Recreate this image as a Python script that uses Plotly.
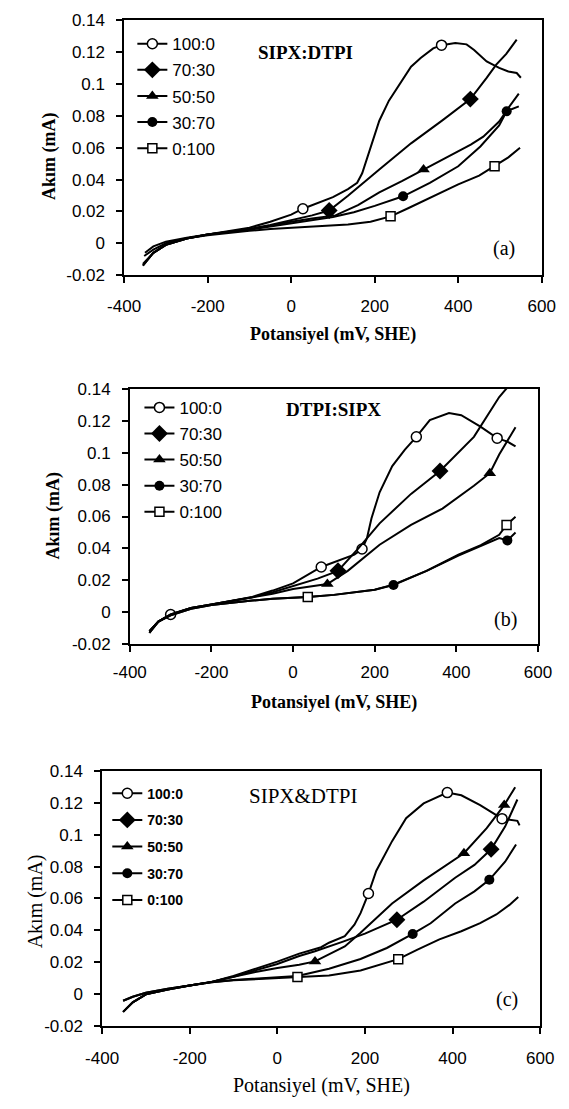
import plotly.graph_objects as go

W, H = 569, 1109

RATIOS = ["100:0", "70:30", "50:50", "30:70", "0:100"]

X_TICKS = [-400, -200, 0, 200, 400, 600]
X_TICK_TEXT = ["-400", "-200", "0", "200", "400", "600"]
Y_TICKS = [-0.02, 0, 0.02, 0.04, 0.06, 0.08, 0.1, 0.12, 0.14]
Y_TICK_TEXT = ["-0.02", "0", "0.02", "0.04", "0.06", "0.08", "0.1", "0.12", "0.14"]

# ---------------- (a) SIPX:DTPI ----------------
A_V_100_0 = [-350, -330, -300, -250, -200, -150, -100, -50, 0, 28, 60, 100, 136, 158, 170, 181,
             196, 211, 234, 264, 287, 310, 340, 360, 393, 420, 438, 468, 498, 520, 540, 550]
A_I_100_0 = [-0.006, -0.002, 0.001, 0.0035, 0.0055, 0.0075, 0.0098, 0.0135, 0.018, 0.0217, 0.025,
             0.029, 0.034, 0.038, 0.044, 0.0525, 0.065, 0.077, 0.0896, 0.102, 0.111, 0.1164, 0.1225,
             0.1245, 0.1258, 0.125, 0.1215, 0.1143, 0.1102, 0.108, 0.107, 0.104]
A_MK_100_0 = [28, 360]

A_V_70_30 = [-355, -330, -300, -250, -200, -150, -100, -50, 0, 50, 91, 136, 211, 287, 362, 429,
             468, 491, 515, 540]
A_I_70_30 = [-0.014, -0.006, -0.001, 0.003, 0.0055, 0.0073, 0.009, 0.0115, 0.0145, 0.0175, 0.0206,
             0.0299, 0.0464, 0.0628, 0.0772, 0.0906, 0.104, 0.1123, 0.119, 0.128]
A_MK_70_30 = [91, 429]

A_V_50_50 = [-355, -330, -300, -250, -200, -150, -100, -50, 0, 50, 106, 160, 211, 265, 317, 360,
             393, 430, 460, 498, 520, 545]
A_I_50_50 = [-0.014, -0.006, -0.001, 0.003, 0.0055, 0.0072, 0.0088, 0.011, 0.0135, 0.0155, 0.0175,
             0.024, 0.032, 0.039, 0.0464, 0.052, 0.0567, 0.062, 0.067, 0.0765, 0.085, 0.094]
A_MK_50_50 = [317]

A_V_30_70 = [-355, -330, -300, -250, -200, -150, -100, -50, 0, 50, 100, 150, 200, 268, 332, 400,
             453, 498, 516, 545]
A_I_30_70 = [-0.013, -0.006, -0.001, 0.003, 0.0055, 0.007, 0.0085, 0.0105, 0.0125, 0.0145, 0.0165,
             0.0195, 0.0235, 0.0295, 0.038, 0.0484, 0.0608, 0.074, 0.083, 0.086]
A_MK_30_70 = [268, 516]

A_V_0_100 = [-352, -330, -300, -250, -200, -150, -100, -50, 0, 60, 136, 190, 238, 280, 325, 400,
             450, 487, 520, 548]
A_I_0_100 = [-0.008, -0.004, 0.0, 0.0032, 0.005, 0.0065, 0.0078, 0.009, 0.0098, 0.0106, 0.0118,
             0.0135, 0.0169, 0.022, 0.0278, 0.037, 0.0425, 0.0484, 0.054, 0.060]
A_MK_0_100 = [238, 487]

# ---------------- (b) DTPI:SIPX ----------------
B_V_100_0 = [-352, -330, -300, -250, -200, -150, -100, -50, 0, 69, 119, 150, 169, 181, 192, 212,
             243, 274, 302, 335, 382, 412, 459, 500, 525, 545]
B_I_100_0 = [-0.012, -0.006, -0.0015, 0.0025, 0.0048, 0.007, 0.0095, 0.0135, 0.018, 0.0283, 0.033,
             0.036, 0.0396, 0.0464, 0.0588, 0.0752, 0.0917, 0.102, 0.110, 0.1205, 0.125, 0.1236,
             0.1164, 0.1092, 0.107, 0.104]
B_MK_100_0 = [-300, 69, 169, 302, 500]

B_V_70_30 = [-352, -330, -300, -250, -200, -150, -100, -50, 0, 60, 110, 160, 212, 289, 360, 443,
             505, 525, 550]
B_I_70_30 = [-0.013, -0.006, -0.0015, 0.0025, 0.0048, 0.007, 0.0093, 0.0125, 0.0165, 0.021, 0.0259,
             0.040, 0.0557, 0.0742, 0.0886, 0.110, 0.135, 0.141, 0.147]
B_MK_70_30 = [110, 360]

B_V_50_50 = [-352, -330, -300, -250, -200, -150, -100, -50, 0, 40, 84, 134, 212, 289, 366, 443,
             482, 505, 530, 545]
B_I_50_50 = [-0.012, -0.006, -0.0015, 0.0025, 0.0048, 0.007, 0.009, 0.0115, 0.0145, 0.016, 0.0176,
             0.0259, 0.0423, 0.0547, 0.065, 0.0793, 0.0872, 0.0989, 0.11, 0.116]
B_MK_50_50 = [84, 482]

B_V_30_70 = [-352, -330, -300, -250, -200, -150, -100, -50, 0, 36, 100, 160, 200, 246, 327, 405,
             460, 505, 525, 545]
B_I_30_70 = [-0.013, -0.006, -0.002, 0.002, 0.0045, 0.006, 0.0072, 0.0083, 0.0088, 0.0094, 0.0108,
             0.0125, 0.014, 0.017, 0.0259, 0.0355, 0.0415, 0.0465, 0.045, 0.050]
B_MK_30_70 = [246, 525]

B_V_0_100 = [-352, -330, -300, -250, -200, -150, -100, -50, 0, 36, 100, 160, 200, 246, 327, 405,
             460, 505, 523, 545]
B_I_0_100 = [-0.012, -0.006, -0.002, 0.002, 0.0045, 0.006, 0.0072, 0.0083, 0.0088, 0.0094, 0.0108,
             0.0125, 0.014, 0.0172, 0.0259, 0.036, 0.042, 0.0485, 0.0547, 0.0598]
B_MK_0_100 = [36, 523]

# ---------------- (c) SIPX&DTPI ----------------
C_V_100_0 = [-352, -330, -300, -250, -200, -150, -100, -50, 0, 50, 100, 118, 154, 176, 190, 208,
             226, 262, 294, 334, 388, 420, 463, 499, 513, 548, 553]
C_I_100_0 = [-0.004, -0.0015, 0.001, 0.0035, 0.0055, 0.0078, 0.0115, 0.016, 0.0205, 0.0255, 0.0295,
             0.0323, 0.0364, 0.0436, 0.0508, 0.0631, 0.0774, 0.0959, 0.1103, 0.1195, 0.1263, 0.1246,
             0.1185, 0.1123, 0.110, 0.1086, 0.1058]
C_MK_100_0 = [208, 388, 513]

C_V_70_30 = [-352, -330, -300, -250, -200, -150, -100, -50, 0, 50, 86, 150, 200, 273, 334, 406,
             450, 488, 520, 548]
C_I_70_30 = [-0.011, -0.005, 0.0, 0.003, 0.0055, 0.0078, 0.011, 0.015, 0.019, 0.024, 0.027, 0.033,
             0.038, 0.0467, 0.058, 0.073, 0.081, 0.0908, 0.105, 0.122]
C_MK_70_30 = [273, 488]

C_V_50_50 = [-352, -330, -300, -250, -200, -150, -100, -50, 0, 50, 86, 154, 190, 262, 334, 380,
             426, 478, 507, 518, 543]
C_I_50_50 = [-0.004, -0.0015, 0.001, 0.0035, 0.0055, 0.0078, 0.011, 0.014, 0.0165, 0.0185, 0.0206,
             0.030, 0.0385, 0.0569, 0.0713, 0.080, 0.0883, 0.104, 0.1144, 0.1185, 0.1297]
C_MK_50_50 = [86, 426, 518]

C_V_30_70 = [-352, -330, -300, -250, -200, -150, -100, -50, 0, 46, 118, 190, 250, 309, 350, 406,
             450, 484, 520, 545]
C_I_30_70 = [-0.011, -0.005, 0.0, 0.003, 0.0055, 0.0075, 0.009, 0.0098, 0.0105, 0.0115, 0.016,
             0.0221, 0.029, 0.0378, 0.0445, 0.0569, 0.0645, 0.0717, 0.083, 0.0938]
C_MK_30_70 = [309, 484]

C_V_0_100 = [-352, -330, -300, -250, -200, -150, -100, -50, 0, 46, 118, 190, 276, 320, 370, 420,
             463, 500, 530, 550]
C_I_0_100 = [-0.011, -0.005, 0.0, 0.003, 0.0055, 0.0075, 0.0088, 0.0095, 0.0102, 0.0108, 0.0118,
             0.0149, 0.022, 0.028, 0.0344, 0.0395, 0.0446, 0.050, 0.056, 0.061]
C_MK_0_100 = [46, 276]

PANEL_TITLES = ["SIPX:DTPI", "DTPI:SIPX", "SIPX&DTPI"]
PANEL_TAGS = ["(a)", "(b)", "(c)"]
X_TITLE = "Potansiyel (mV, SHE)"
Y_TITLE = "Akım (mA)"

SERIES = [
    [(A_V_100_0, A_I_100_0, A_MK_100_0), (A_V_70_30, A_I_70_30, A_MK_70_30),
     (A_V_50_50, A_I_50_50, A_MK_50_50), (A_V_30_70, A_I_30_70, A_MK_30_70),
     (A_V_0_100, A_I_0_100, A_MK_0_100)],
    [(B_V_100_0, B_I_100_0, B_MK_100_0), (B_V_70_30, B_I_70_30, B_MK_70_30),
     (B_V_50_50, B_I_50_50, B_MK_50_50), (B_V_30_70, B_I_30_70, B_MK_30_70),
     (B_V_0_100, B_I_0_100, B_MK_0_100)],
    [(C_V_100_0, C_I_100_0, C_MK_100_0), (C_V_70_30, C_I_70_30, C_MK_70_30),
     (C_V_50_50, C_I_50_50, C_MK_50_50), (C_V_30_70, C_I_30_70, C_MK_30_70),
     (C_V_0_100, C_I_0_100, C_MK_0_100)],
]

# marker look per mixing ratio
MARKERS = {
    "100:0": dict(symbol="circle", size=10, color="white", line=dict(color="black", width=1.5)),
    "70:30": dict(symbol="diamond", size=13, color="black", line=dict(color="black", width=0)),
    "50:50": dict(symbol="triangle-up", size=11, color="black", line=dict(color="black", width=0)),
    "30:70": dict(symbol="circle", size=10, color="black", line=dict(color="black", width=0)),
    "0:100": dict(symbol="square", size=9, color="white", line=dict(color="black", width=1.5)),
}

# pixel geometry of each plotting area: left, right, top, bottom
BOXES = [(113.3, 555.0, 11.7, 270.7), (119.3, 551.0, 386.7, 646.0), (90.0, 553.3, 775.0, 1035.0)]
TITLE_POS = [(305, 44), (335, 407.5), (303, 800.5)]
TAG_POS = [(515, 244), (517, 621.5), (518.5, 1008)]
YTITLE_POS = [(34.5, 150), (38.5, 515), (20, 908)]
XTITLE_GAP = 60
XLABEL_STANDOFF = [9, 6, 10]
LEGEND_POS = [(122, 17.5), (129.5, 387.5), (95.5, 782.0)]
LEGEND_FONT = [dict(size=17), dict(size=17), dict(size=14, weight="bold")]
LEGEND_GAP = [1, 1, 5.5]
TITLE_FONT = [dict(size=19, weight="bold"), dict(size=19, weight="bold"), dict(size=21)]
AXTITLE_FONT = [dict(size=18, weight="bold"), dict(size=18, weight="bold"), dict(size=20)]


def px(x):
    return x / W


def py(y):
    return 1 - y / H


SANS = "Liberation Sans, Arial, sans-serif"
SERIF = "Liberation Serif, Times New Roman, serif"

fig = go.Figure()
annotations = []
layout = {}

for p in range(3):
    sfx = "" if p == 0 else str(p + 1)
    xa, ya = "x" + sfx, "y" + sfx
    leg = "legend" + sfx
    for ratio, (v, cur, marks) in zip(RATIOS, SERIES[p]):
        fig.add_trace(go.Scatter(
            x=v, y=cur, mode="lines", line=dict(color="black", width=2),
            xaxis=xa, yaxis=ya, showlegend=False, hoverinfo="skip"))
        idx = [v.index(m) for m in marks]
        fig.add_trace(go.Scatter(
            x=[v[k] for k in idx], y=[cur[k] for k in idx], mode="markers",
            marker=MARKERS[ratio], xaxis=xa, yaxis=ya, showlegend=False, hoverinfo="skip"))
        # legend entry (line with marker)
        fig.add_trace(go.Scatter(
            x=[None], y=[None], mode="lines+markers", name=ratio,
            line=dict(color="black", width=2), marker=MARKERS[ratio],
            xaxis=xa, yaxis=ya, legend=leg, legendgroup=leg + ratio))

    l, r, t, b = BOXES[p]
    common = dict(showline=True, linecolor="black", linewidth=1.5, mirror=True,
                  ticks="outside", ticklen=6, tickwidth=1.5, tickcolor="black",
                  showgrid=False, zeroline=False,
                  tickfont=dict(family=SANS, size=17, color="black"))
    layout["xaxis" + sfx] = dict(common, domain=[px(l), px(r)], range=[-400, 600],
                                 tickmode="array", tickvals=X_TICKS, ticktext=X_TICK_TEXT,
                                 ticklabelstandoff=XLABEL_STANDOFF[p], anchor=ya)
    layout["yaxis" + sfx] = dict(common, domain=[py(b), py(t)], range=[-0.02, 0.14],
                                 tickmode="array", tickvals=Y_TICKS, ticktext=Y_TICK_TEXT,
                                 ticklabelstandoff=8, anchor=xa)
    lx, ly = LEGEND_POS[p]
    layout[leg] = dict(x=px(lx), y=py(ly), xanchor="left", yanchor="top",
                       bgcolor="rgba(0,0,0,0)", borderwidth=0,
                       traceorder="grouped", tracegroupgap=LEGEND_GAP[p],
                       font=dict(family=SANS, color="black", **LEGEND_FONT[p]))

    tx, ty = TITLE_POS[p]
    annotations.append(dict(text=PANEL_TITLES[p], x=px(tx), y=py(ty), xref="paper", yref="paper",
                            showarrow=False, xanchor="center", yanchor="middle",
                            font=dict(family=SERIF, color="black", **TITLE_FONT[p])))
    gx, gy = TAG_POS[p]
    annotations.append(dict(text=PANEL_TAGS[p], x=px(gx), y=py(gy), xref="paper", yref="paper",
                            showarrow=False, xanchor="center", yanchor="middle",
                            font=dict(family=SERIF, size=20, color="black")))
    annotations.append(dict(text=X_TITLE, x=px((l + r) / 2), y=py(b + XTITLE_GAP),
                            xref="paper", yref="paper", showarrow=False,
                            xanchor="center", yanchor="middle",
                            font=dict(family=SERIF, color="black", **AXTITLE_FONT[p])))
    yx, yy = YTITLE_POS[p]
    annotations.append(dict(text=Y_TITLE, x=px(yx), y=py(yy), xref="paper", yref="paper",
                            showarrow=False, textangle=-90, xanchor="center", yanchor="middle",
                            font=dict(family=SERIF, color="black", **AXTITLE_FONT[p])))

fig.update_layout(
    width=W, height=H, margin=dict(l=0, r=0, t=0, b=0),
    paper_bgcolor="white", plot_bgcolor="white",
    annotations=annotations, **layout)

fig.write_html("out.html")
